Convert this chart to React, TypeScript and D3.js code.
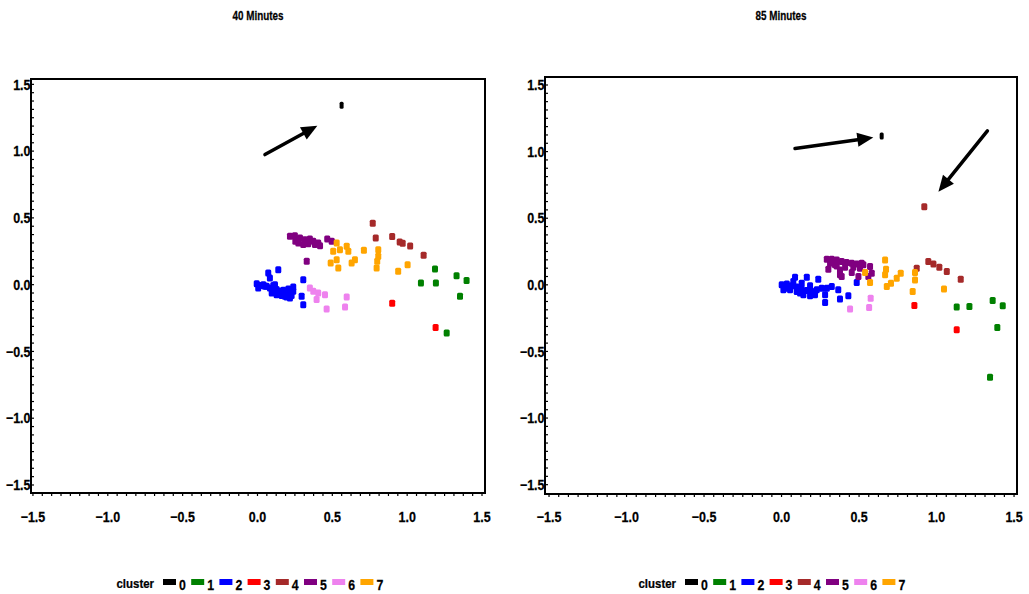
import React from "react";
import * as d3 from "d3";

type Pt = [number, number];

// cluster colours, index = cluster id
const clusterIds = [0, 1, 2, 3, 4, 5, 6, 7];
const clusterColors = ["#000000", "#008000", "#0000ff", "#ff0000", "#a52a2a", "#800080", "#ee82ee", "#ffa500"];

const xTicks = [-1.5, -1.0, -0.5, 0.0, 0.5, 1.0, 1.5];
const yTicks = [1.5, 1.0, 0.5, 0.0, -0.5, -1.0, -1.5];

// ---- 40 minutes ----
const m40c0: Pt[] = [[0.562, 1.343]];
const m40c1: Pt[] = [[1.186, 0.117], [1.092, 0.012], [1.192, 0.012], [1.33, 0.067], [1.397, 0.032], [1.353, -0.087], [1.264, -0.362]];
const m40c2: Pt[] = [
  [-0.005, 0.007], [0.017, -0.007], [0.039, 0], [0.061, -0.012], [0.083, -0.025], [0.106, -0.032], [0.128, -0.037],
  [0.15, -0.05], [0.172, -0.042], [0.195, -0.057], [0.217, -0.062], [0.239, -0.05], [0.072, 0.087], [0.139, 0.112],
  [0.083, 0.05], [0.306, 0.037], [0.295, -0.087], [0.306, -0.15], [0.05, -0.012], [0.117, 0], [0.184, -0.087], [0.217, -0.1],
  [0.095, -0.062], [0.128, -0.075], [0.162, -0.082], [0.195, -0.092], [0.228, -0.082], [0.106, -0.007], [0.206, -0.032],
  [0.239, -0.017], [0.005, -0.025],
];
const m40c3: Pt[] = [[0.9, -0.14], [1.19, -0.32]];
const m40c4: Pt[] = [[0.77, 0.46], [0.79, 0.35], [0.9, 0.36], [0.95, 0.32], [0.97, 0.31], [1.02, 0.29], [1.11, 0.22]];
const m40c5: Pt[] = [
  [0.217, 0.362], [0.25, 0.367], [0.284, 0.35], [0.317, 0.337], [0.35, 0.342], [0.373, 0.325], [0.406, 0.312],
  [0.306, 0.3], [0.466, 0.342], [0.496, 0.325], [0.329, 0.175], [0.253, 0.325], [0.273, 0.312], [0.339, 0.307],
  [0.384, 0.3], [0.418, 0.292],
];
const m40c6: Pt[] = [[0.35, -0.025], [0.373, -0.05], [0.406, -0.062], [0.451, -0.075], [0.395, -0.112], [0.462, -0.182], [0.596, -0.092], [0.585, -0.167]];
const m40c7: Pt[] = [
  [0.529, 0.312], [0.506, 0.25], [0.551, 0.262], [0.596, 0.287], [0.607, 0.25], [0.489, 0.162], [0.529, 0.187],
  [0.54, 0.125], [0.629, 0.162], [0.651, 0.187], [0.711, 0.257], [0.807, 0.262], [0.807, 0.212], [0.8, 0.175],
  [0.796, 0.125], [0.94, 0.1], [1.003, 0.15],
];
const m40Arrows: [Pt, Pt][] = [[[0.05, 0.974], [0.4, 1.19]]];

// ---- 85 minutes ----
const m85c0: Pt[] = [[0.646, 1.118]];
const m85c1: Pt[] = [[1.13, -0.167], [1.212, -0.162], [1.362, -0.117], [1.427, -0.157], [1.392, -0.32], [1.345, -0.694]];
const m85c2: Pt[] = [
  [0.001, 0], [0.034, 0.007], [0.066, -0.007], [0.098, -0.017], [0.13, -0.032], [0.163, -0.042], [0.195, -0.05],
  [0.227, -0.037], [0.259, -0.025], [0.087, 0.057], [0.163, 0.057], [0.237, 0.042], [0.292, -0.025], [0.324, -0.012],
  [0.366, -0.037], [0.281, -0.075], [0.281, -0.132], [0.377, -0.107], [0.431, -0.082], [0.485, 0.017], [0.023, -0.025],
  [0.119, -0.062], [0.205, -0.062], [0.012, -0.037], [0.055, -0.037], [0.098, -0.05], [0.141, -0.075], [0.184, -0.082],
  [0.216, -0.075], [0.076, 0.025], [0.13, 0.012], [0.184, -0.007],
];
const m85c3: Pt[] = [[0.857, -0.155], [1.13, -0.337]];
const m85c4: Pt[] = [[0.921, 0.587], [0.947, 0.175], [0.98, 0.157], [1.018, 0.132], [1.066, 0.1], [1.156, 0.042], [0.872, 0.125]];
const m85c5: Pt[] = [
  [0.292, 0.192], [0.324, 0.192], [0.356, 0.187], [0.388, 0.175], [0.42, 0.167], [0.453, 0.162], [0.485, 0.157],
  [0.517, 0.162], [0.302, 0.117], [0.377, 0.112], [0.388, 0.062], [0.453, 0.092], [0.496, 0.062], [0.571, 0.137],
  [0.56, 0.062], [0.528, 0.15], [0.345, 0.15], [0.582, 0.087], [0.313, 0.162], [0.356, 0.142], [0.41, 0.132],
  [0.463, 0.132], [0.506, 0.125], [0.377, 0.075],
];
const m85c6: Pt[] = [[0.575, -0.1], [0.565, -0.17], [0.442, -0.182]];
const m85c7: Pt[] = [
  [0.668, 0.187], [0.674, 0.117], [0.668, 0.075], [0.539, 0.092], [0.571, 0.017], [0.679, -0.012], [0.706, 0.012],
  [0.743, 0.05], [0.769, 0.087], [0.861, 0.092], [0.861, 0.037], [0.846, -0.05], [1.048, -0.032],
];
const m85Arrows: [Pt, Pt][] = [
  [[0.087, 1.024], [0.592, 1.106]],
  [[1.328, 1.156], [1.012, 0.699]],
];

const FONT = "'Liberation Sans', Arial, sans-serif";

// narrow bold text, squeezed horizontally like the original condensed face
function NText({ x, y, size, sx = 0.86, anchor = "start", dy, children }: any) {
  return (
    <text
      transform={`translate(${x},${y}) scale(${sx},1)`}
      dy={dy}
      textAnchor={anchor}
      fontSize={size}
      fontFamily={FONT}
      fontWeight="bold"
      stroke="#000"
      strokeWidth={0.25}
    >
      {children}
    </text>
  );
}

interface PanelProps {
  title: string;
  clusters: Pt[][];
  arrows: [Pt, Pt][];
  xDomain: [number, number];
  xRange: [number, number];
  yDomain: [number, number];
  yRange: [number, number];
  legendX: number;
}

function Panel({ title, clusters, arrows, xDomain, xRange, yDomain, yRange, legendX }: PanelProps) {
  const x = d3.scaleLinear().domain(xDomain).range(xRange);
  const y = d3.scaleLinear().domain(yDomain).range(yRange);
  const [left, right] = xRange;
  const [bottom, top] = yRange;
  const minor = d3.range(-1.5, 1.5001, 1 / 16);
  const legendStep = 28.2;

  return (
    <g>
      <NText x={(left + right) / 2} y={20} size={13} sx={0.76} anchor="middle">
        {title}
      </NText>

      {/* minor ticks */}
      {minor.map((v, i) => (
        <line key={"xt" + i} x1={x(v)} x2={x(v)} y1={bottom} y2={bottom + 3} stroke="#000" strokeWidth={1.2} />
      ))}
      {minor.map((v, i) => (
        <line key={"yt" + i} x1={left} x2={left + 3} y1={y(v)} y2={y(v)} stroke="#000" strokeWidth={1.2} />
      ))}

      {xTicks.map((v) => (
        <NText key={"xl" + v} x={x(v)} y={522} size={14.5} sx={0.86} anchor="middle">
          {d3.format(".1f")(v)}
        </NText>
      ))}
      {yTicks.map((v) => (
        <NText key={"yl" + v} x={left - 0.5} y={y(v)} dy="0.36em" size={14.5} sx={0.86} anchor="end">
          {d3.format(".1f")(v)}
        </NText>
      ))}

      <rect x={left} y={top} width={right - left} height={bottom - top} fill="none" stroke="#000" strokeWidth={2} />

      {clusters.map((pts, ci) =>
        pts.map((p, i) => (
          <rect
            key={ci + "-" + i}
            x={x(p[0]) - (ci === 0 ? 2 : 3)}
            y={y(p[1]) - 3.5}
            width={ci === 0 ? 4 : 6}
            height={7}
            rx={1.5}
            fill={clusterColors[ci]}
          />
        ))
      )}

      {arrows.map(([a, b], i) => {
        const x1 = x(a[0]), y1 = y(a[1]), x2 = x(b[0]), y2 = y(b[1]);
        const ang = Math.atan2(y2 - y1, x2 - x1);
        const len = 16, half = 7;
        const bx = x2 - len * Math.cos(ang), by = y2 - len * Math.sin(ang);
        const px = -Math.sin(ang) * half, py = Math.cos(ang) * half;
        return (
          <g key={"a" + i}>
            <line x1={x1} y1={y1} x2={bx + 2 * Math.cos(ang)} y2={by + 2 * Math.sin(ang)} stroke="#000" strokeWidth={3.5} strokeLinecap="round" />
            <polygon points={`${x2},${y2} ${bx + px},${by + py} ${bx - px},${by - py}`} fill="#000" />
          </g>
        );
      })}

      <NText x={legendX - 9} y={588} size={13} sx={0.88} anchor="end">
        cluster
      </NText>
      {clusterIds.map((c, i) => (
        <g key={"lg" + c}>
          <rect x={legendX + i * legendStep} y={579} width={13} height={6} fill={clusterColors[c]} />
          <NText x={legendX + i * legendStep + 16} y={590} size={15} sx={0.82}>
            {c}
          </NText>
        </g>
      ))}
    </g>
  );
}

export default function App() {
  return (
    <svg width={1029} height={594} style={{ position: "absolute", left: 0, top: 0, background: "#fff" }}>
      <rect width={1029} height={594} fill="#fff" />
      <Panel
        title="40 Minutes"
        clusters={[m40c0, m40c1, m40c2, m40c3, m40c4, m40c5, m40c6, m40c7]}
        arrows={m40Arrows}
        xDomain={[-1.513, 1.52]}
        xRange={[31, 485]}
        yDomain={[-1.56, 1.54]}
        yRange={[493, 79]}
        legendX={163}
      />
      <Panel
        title="85 Minutes"
        clusters={[m85c0, m85c1, m85c2, m85c3, m85c4, m85c5, m85c6, m85c7]}
        arrows={m85Arrows}
        xDomain={[-1.526, 1.519]}
        xRange={[545, 1017]}
        yDomain={[-1.57, 1.56]}
        yRange={[494, 77]}
        legendX={685}
      />
    </svg>
  );
}
